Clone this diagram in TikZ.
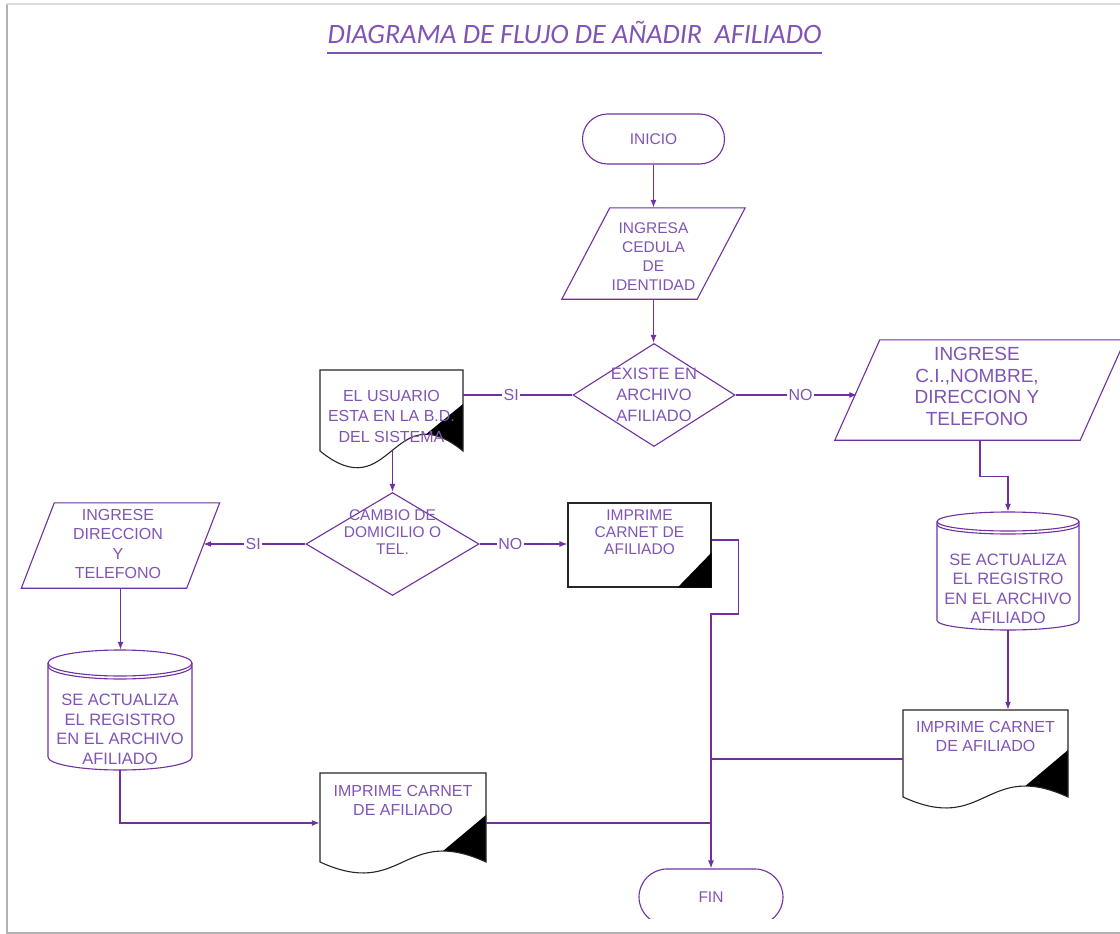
\documentclass[tikz,border=0pt]{standalone}
\usepackage{fontspec}
\setmainfont{Liberation Sans}
\newfontfamily\titlefont{Carlito}
\usetikzlibrary{arrows.meta,shapes.geometric}
\definecolor{lc}{RGB}{112,48,160}
\definecolor{tc}{RGB}{128,84,182}

% document symbol with a wavy bottom and a black corner: L, T, R, B, wave amplitude
\newcommand\wavedoc[5]{%
  \fill[white] (#1,#2) -- (#3,#2) -- (#3,#4) .. controls ({(#1+#3)/2},{#4-2*#5}) and ({(#1+#3)/2},{#4+2*#5}) .. (#1,#4) -- cycle;
  \begin{scope}
    \clip (#1,#2) -- (#3,#2) -- (#3,#4) .. controls ({(#1+#3)/2},{#4-2*#5}) and ({(#1+#3)/2},{#4+2*#5}) .. (#1,#4) -- cycle;
    \fill[black] (#3,{#4-47}) -- ({#1+0.741*(#3-#1)},{#4-0.577*#5}) -- ({#1+0.741*(#3-#1)},{#4+40}) -- ({#3+5},{#4+40}) -- ({#3+5},{#4-47}) -- cycle;
  \end{scope}
  \draw[docl] (#1,#2) -- (#3,#2) -- (#3,#4) .. controls ({(#1+#3)/2},{#4-2*#5}) and ({(#1+#3)/2},{#4+2*#5}) .. (#1,#4) -- cycle;
}
% data store cylinder: centre x, top, bottom, x radius, y radius
\newcommand\cylout[5]{%
  \fill[white] ({#1-#4},{#2+#5}) -- ({#1-#4},{#3-#5}) arc[start angle=180, end angle=0, x radius=#4, y radius=#5] -- ({#1+#4},{#2+#5}) -- cycle;
  \draw[shp] ({#1-#4},{#2+#5}) -- ({#1-#4},{#3-#5}) arc[start angle=180, end angle=0, x radius=#4, y radius=#5] -- ({#1+#4},{#2+#5});
  \draw[shp] (#1,{#2+#5}) ellipse [x radius=#4, y radius=#5];
  \draw[shp] ({#1-#4},{#2+#5+3}) arc[start angle=180, end angle=0, x radius=#4, y radius=#5];
}

\begin{document}
\begin{tikzpicture}[x=1pt,y=-1pt,
  area/.style={rectangle, inner sep=0pt, draw=none},
  shp/.style={draw=lc, line width=1.1pt},
  docl/.style={draw=black!85, line width=1.1pt},
  flow/.style={draw=lc, line width=1.3pt},
  arr/.style={flow, -{Latex[length=8pt,width=6pt]}},
  txt/.style={text=tc, align=center, inner sep=0pt, font=\fontsize{15.5}{19.5}\selectfont},
  lbl/.style={fill=white, text=tc, inner sep=1.5pt, font=\fontsize{16}{16}\selectfont},
  term/.style={shp, rectangle, text=tc, font=\fontsize{15.5}{19.5}\selectfont}]

\useasboundingbox (0,0) rectangle (1120,934);
\fill[white] (0,0) rectangle (1120,934);

% page frame
\draw[black!30, line width=2.5pt] (7,4) -- (7,934);
\draw[black!14, line width=2pt] (7,4) -- (1120,4);
\draw[black!30, line width=2pt] (7,932.5) -- (1120,932.5);

% title
\node[anchor=base, inner sep=0pt, text=tc, font=\titlefont\itshape\fontsize{28}{30}\selectfont] (title) at (574.5,44) {DIAGRAMA DE FLUJO DE AÑADIR\ \ AFILIADO};
\draw[tc, line width=1.4pt] ([yshift=-9pt]title.base west) -- ([yshift=-9pt]title.base east);

% start
\node[term, rounded corners=25pt, minimum width=142pt, minimum height=50pt] (inicio) at (653.5,139) {INICIO};

% ID input
\node[area, minimum width=135pt, minimum height=91pt] (ced) at (653.5,253.5) {};
\draw[shp] ([xshift=24pt]ced.north west) -- ([xshift=24pt]ced.north east) -- ([xshift=-24pt]ced.south east) -- ([xshift=-24pt]ced.south west) -- cycle;
\node[txt, font=\fontsize{15.5}{19}\selectfont] (cedt) at (653.5,256.5) {INGRESA\\CEDULA\\DE\\IDENTIDAD};

% first decision
\node[shp, diamond, minimum width=162pt, minimum height=103pt, inner sep=0pt] (exist) at (654,395) {};
\node[txt, font=\fontsize{16.5}{21}\selectfont] (existt) at (654,395) {EXISTE EN\\ARCHIVO\\AFILIADO};

% user already registered
\wavedoc{320}{370}{463}{451}{29}
\node[area, minimum width=143pt, minimum height=81pt] (usr) at (391.5,410.5) {};
\node[txt, font=\fontsize{16}{20.5}\selectfont] (usrt) at (391.5,416) {EL USUARIO\\ESTA EN LA B.D.\\DEL SISTEMA};

% new member data
\node[area, minimum width=245pt, minimum height=100pt] (parR) at (980,390) {};
\draw[shp] ([xshift=22.5pt]parR.north west) -- ([xshift=22.5pt]parR.north east) -- ([xshift=-22.5pt]parR.south east) -- ([xshift=-22.5pt]parR.south west) -- cycle;
\node[txt, font=\fontsize{19}{21.5}\selectfont] (parRt) at (977,386.5) {INGRESE\\C.I.,NOMBRE,\\DIRECCION Y\\TELEFONO};

% second decision
\node[shp, diamond, minimum width=173pt, minimum height=103pt, inner sep=0pt] (cambio) at (392.5,544) {};
\node[txt, font=\fontsize{15.5}{17}\selectfont] (cambiot) at (392.5,532) {CAMBIO DE\\DOMICILIO O\\TEL.};

% print card (no change)
\node[docl, rectangle, fill=white, minimum width=143pt, minimum height=84pt] (rect) at (639.5,545) {};
\fill[black] (rect.south east) -- ([yshift=35pt]rect.south east) -- ([xshift=-34pt]rect.south east) -- cycle;
\node[txt, font=\fontsize{15.5}{17}\selectfont] (rectt) at (639.5,532) {IMPRIME\\CARNET DE\\AFILIADO};

% new address input
\node[area, minimum width=165pt, minimum height=85pt] (parL) at (120.5,545.5) {};
\draw[shp] ([xshift=16.5pt]parL.north west) -- ([xshift=16.5pt]parL.north east) -- ([xshift=-16.5pt]parL.south east) -- ([xshift=-16.5pt]parL.south west) -- cycle;
\node[txt, font=\fontsize{16}{19.5}\selectfont] (parLt) at (118,544) {INGRESE\\DIRECCION\\Y\\TELEFONO};

% record updates
\cylout{120}{650}{770}{72}{13}
\node[area, minimum width=144pt, minimum height=120pt] (cyl1) at (120,710) {};
\node[txt, font=\fontsize{16.5}{19.5}\selectfont] (cyl1t) at (120,729.5) {SE ACTUALIZA\\EL REGISTRO\\EN EL ARCHIVO\\AFILIADO};

\cylout{1008}{512}{630}{71}{9.5}
\node[area, minimum width=142pt, minimum height=118pt] (cyl2) at (1008,571) {};
\node[txt, font=\fontsize{16.5}{19.5}\selectfont] (cyl2t) at (1008,589) {SE ACTUALIZA\\EL REGISTRO\\EN EL ARCHIVO\\AFILIADO};

% printed cards
\wavedoc{903}{710}{1068}{797}{19}
\node[area, minimum width=165pt, minimum height=87pt] (docR) at (985.5,753.5) {};
\node[txt, font=\fontsize{16}{19}\selectfont] (docRt) at (985.5,736) {IMPRIME CARNET\\DE AFILIADO};

\wavedoc{320}{773}{486}{862}{19}
\node[area, minimum width=166pt, minimum height=89pt] (docBL) at (403,817.5) {};
\node[txt, font=\fontsize{16}{19}\selectfont] (docBLt) at (403,800) {IMPRIME CARNET\\DE AFILIADO};

% end (cut by the page edge)
\begin{scope}
  \clip (0,0) rectangle (1120,918);
  \node[term, rounded corners=28pt, minimum width=144pt, minimum height=56pt] (fin) at (711,897) {FIN};
\end{scope}

% connectors
\draw[arr] (inicio.south) -- (inicio.south |- ced.north);
\draw[arr] (ced.south) -- (ced.south |- exist.north);
\draw[flow] (exist.west) -- (exist.west -| usr.east) node[lbl, pos=0.56] (si1) {SI};
\draw[arr] (exist.east) -- (exist.east -| parR.west) node[lbl, pos=0.535] (no1) {NO};
\draw[arr] (cambio.north |- usr.south) -- (cambio.north);
\draw[arr] (cambio.west) -- (cambio.west -| parL.east) node[lbl, pos=0.51] (si2) {SI};
\draw[arr] (cambio.east) -- (cambio.east -| rect.west) node[lbl, pos=0.35] (no2) {NO};
\draw[arr] ([yshift=5pt]rect.east) -| ++(27,74) -| (fin.north);
\draw[arr] (parR.south) -- ++(0,36) -| (cyl2.north);
\draw[arr] (cyl2.south) -- (cyl2.south |- docR.north);
\draw[flow] ([yshift=-5.5pt]docR.west) -- ([yshift=-5.5pt]docR.west -| fin.north);
\draw[arr] (parL.south) -- (parL.south |- cyl1.north);
\draw[arr] (cyl1.south) |- ([yshift=-5.5pt]docBL.west);
\draw[flow] ([yshift=-5.5pt]docBL.east) -- ([yshift=-5.5pt]docBL.east -| fin.north);

\end{tikzpicture}
\end{document}
